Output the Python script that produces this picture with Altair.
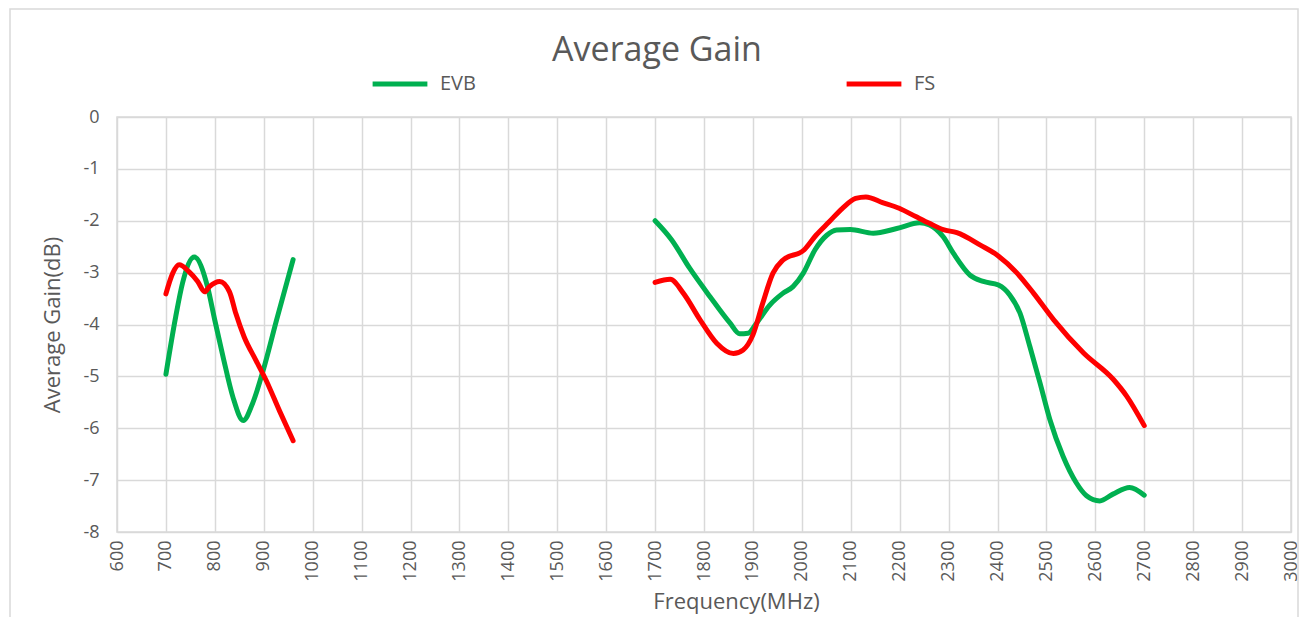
import altair as alt
import pandas as pd

# EVB, low band
evb_f1 = [700, 720, 734, 758, 785, 800, 817, 837, 858, 878, 899, 926, 960]
evb_g1 = [-4.96, -3.85, -3.2, -2.70, -3.27, -3.92, -4.63, -5.4, -5.85, -5.5, -4.88, -3.92, -2.75]
# EVB, high band
evb_f2 = [1700, 1734, 1771, 1812, 1853, 1873, 1890, 1907, 1934, 1961, 1982, 2003, 2027, 2051,
          2071, 2099, 2146, 2194, 2241, 2261, 2289, 2310, 2344, 2371, 2402, 2425, 2446, 2466,
          2487, 2507, 2534, 2561, 2582, 2609, 2636, 2670, 2700]
evb_g2 = [-2.0, -2.37, -2.92, -3.46, -3.97, -4.18, -4.17, -3.98, -3.63, -3.40, -3.27, -3.01, -2.56, -2.28,
          -2.18, -2.17, -2.24, -2.15, -2.04, -2.08, -2.31, -2.63, -3.05, -3.17, -3.24, -3.43, -3.78, -4.42,
          -5.13, -5.83, -6.54, -7.05, -7.3, -7.4, -7.27, -7.14, -7.29]
# FS, low band
fs_f1 = [700, 714, 727, 747, 765, 779, 789, 810, 830, 843, 860, 884, 905, 932, 960]
fs_g1 = [-3.41, -3.01, -2.85, -2.98, -3.17, -3.37, -3.27, -3.17, -3.37, -3.79, -4.24, -4.69, -5.08, -5.66, -6.24]
# FS, high band
fs_f2 = [1700, 1731, 1758, 1792, 1826, 1860, 1880, 1900, 1920, 1941, 1961, 2005, 2029, 2056, 2083,
         2110, 2131, 2165, 2199, 2233, 2261, 2289, 2317, 2365, 2399, 2440, 2474, 2515, 2576, 2637,
         2664, 2700]
fs_g2 = [-3.19, -3.13, -3.40, -3.91, -4.36, -4.56, -4.49, -4.2, -3.59, -3.01, -2.76, -2.56, -2.28, -2.02, -1.76,
         -1.57, -1.54, -1.65, -1.76, -1.92, -2.05, -2.17, -2.23, -2.47, -2.66, -3.01, -3.4, -3.91, -4.55, -5.06,
         -5.38, -5.95]

x_ticks = list(range(600, 3001, 100))
y_ticks = list(range(-8, 1))

rows = []
for series, seg, fs, gs in [("EVB", "EVB-1", evb_f1, evb_g1), ("EVB", "EVB-2", evb_f2, evb_g2),
                            ("FS", "FS-1", fs_f1, fs_g1), ("FS", "FS-2", fs_f2, fs_g2)]:
    for f, g in zip(fs, gs):
        rows.append({"Series": series, "Segment": seg, "Frequency": f, "Gain": g})
df = pd.DataFrame(rows)

FONT = "Open Sans"
GREY = "#595959"

lines = alt.Chart(df).mark_line(strokeWidth=5, interpolate="monotone", strokeCap="round").encode(
    x=alt.X("Frequency:Q",
            scale=alt.Scale(domain=[600, 3000], nice=False, zero=False),
            axis=alt.Axis(values=x_ticks, title="Frequency(MHz)", labelAngle=270,
                          labelAlign="right", labelBaseline="middle", labelPadding=8,
                          labelExpr="'' + datum.value", titleFontSize=22,
                          titleX=619, titlePadding=10, labelFlush=False, labelOverlap=False)),
    y=alt.Y("Gain:Q",
            scale=alt.Scale(domain=[-8, 0], nice=False),
            axis=alt.Axis(values=y_ticks, title="Average Gain(dB)", labelPadding=18,
                          labelExpr="'' + datum.value", titleFontSize=22,
                          titlePadding=18)),
    color=alt.Color("Series:N",
                    scale=alt.Scale(domain=["EVB", "FS"], range=["#00b050", "#ff0000"]),
                    legend=alt.Legend(title=None, orient="none", direction="horizontal",
                                      legendX=253, legendY=-63, symbolType="stroke",
                                      symbolSize=3000, symbolStrokeWidth=5,
                                      columnPadding=360, labelOffset=10,
                                      labelFontSize=20, labelColor=GREY, labelFont=FONT)),
    detail="Segment:N",
)

border = alt.Chart(pd.DataFrame({"a": [0]})).mark_rect(
    fill=None, stroke="#d9d9d9", strokeWidth=1.5, clip=False
).encode(x=alt.value(-107), x2=alt.value(1181), y=alt.value(-108), y2=alt.value(512))

chart = alt.layer(border, lines).properties(
    width=1174, height=415,
    title=alt.TitleParams("Average Gain", fontSize=34, font=FONT, fontWeight="normal",
                          color=GREY, anchor="middle", dx=-47, offset=-60),
    padding={"left": 109, "top": 109, "right": 10, "bottom": 85},
    autosize=alt.AutoSizeParams(type="none"),
).configure_axis(
    grid=True, gridColor="#d9d9d9", gridWidth=1.5, domain=False, ticks=False,
    labelFont=FONT, labelFontSize=18, labelColor=GREY,
    titleFont=FONT, titleFontSize=20, titleColor=GREY, titleFontWeight="normal",
).configure_view(stroke="#d9d9d9", strokeWidth=1.5)

chart.save("out.html", embed_options={"renderer": "svg", "actions": False})
